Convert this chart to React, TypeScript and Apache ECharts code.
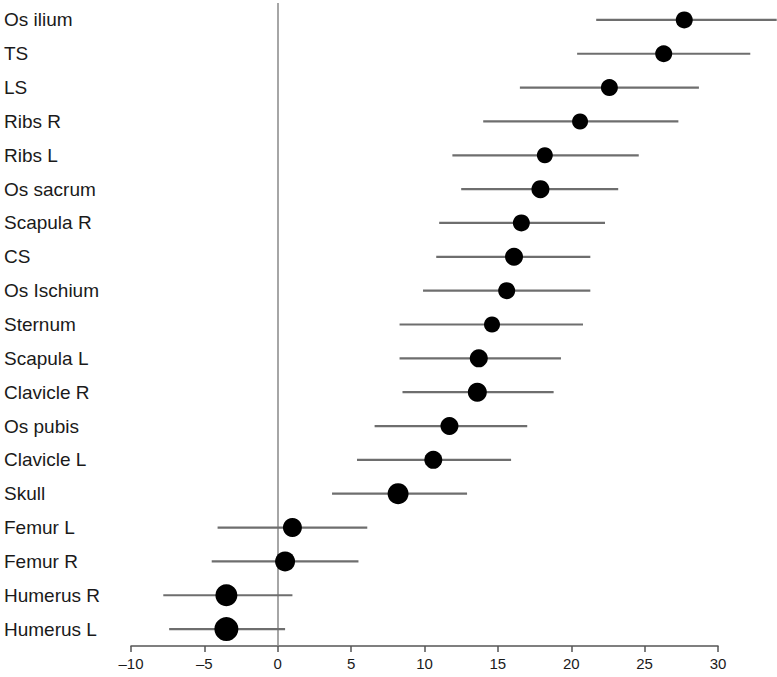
import React, { useEffect, useRef } from "react";
import * as echarts from "echarts";

const categories = [
  "Os ilium", "TS", "LS", "Ribs R", "Ribs L", "Os sacrum", "Scapula R", "CS",
  "Os Ischium", "Sternum", "Scapula L", "Clavicle R", "Os pubis", "Clavicle L",
  "Skull", "Femur L", "Femur R", "Humerus R", "Humerus L",
];
const estimates = [27.7, 26.3, 22.6, 20.6, 18.2, 17.9, 16.6, 16.1, 15.6, 14.6, 13.7, 13.6, 11.7, 10.6, 8.2, 1.0, 0.5, -3.5, -3.5];
const lower = [21.7, 20.4, 16.5, 14.0, 11.9, 12.5, 11.0, 10.8, 9.9, 8.3, 8.3, 8.5, 6.6, 5.4, 3.7, -4.1, -4.5, -7.8, -7.4];
const upper = [34.0, 32.2, 28.7, 27.3, 24.6, 23.2, 22.3, 21.3, 21.3, 20.8, 19.3, 18.8, 17.0, 15.9, 12.9, 6.1, 5.5, 1.0, 0.5];
const pointSizes = [17, 17, 17, 16, 16, 18, 17, 18, 17, 16, 18, 19, 18, 18, 21, 19, 20, 22, 24];
const xTicks = [-10, -5, 0, 5, 10, 15, 20, 25, 30];

export default function App() {
  const ref = useRef<HTMLDivElement>(null);
  useEffect(() => {
    if (!ref.current) return;
    const chart = echarts.init(ref.current, null, { renderer: "svg" });
    const data = categories.map((c, i) => [i, lower[i], upper[i], estimates[i], pointSizes[i]]);
    chart.setOption({
      animation: false,
      backgroundColor: "#ffffff",
      grid: { left: 131, right: 59, top: 3, bottom: 31, containLabel: false },
      xAxis: {
        type: "value",
        min: xTicks[0],
        max: xTicks[xTicks.length - 1],
        interval: 5,
        axisLine: { show: true, lineStyle: { color: "#555", width: 1.5 } },
        axisTick: { show: true, length: 6, lineStyle: { color: "#555", width: 1.5 } },
        axisLabel: {
          margin: 10,
          color: "#1a1a1a",
          fontSize: 15,
          fontFamily: "Liberation Sans, Arial, sans-serif",
          formatter: (v: number) => (v < 0 ? "\u2013" + Math.abs(v) : String(v)),
        },
        splitLine: { show: false },
      },
      yAxis: {
        type: "category",
        data: categories,
        inverse: true,
        axisLine: { show: false },
        axisTick: { show: false },
        splitLine: { show: false },
        axisLabel: {
          align: "left",
          margin: 127,
          color: "#1a1a1a",
          fontSize: 19,
          fontFamily: "Liberation Sans, Arial, sans-serif",
        },
      },
      series: [
        {
          type: "custom",
          clip: false,
          data,
          encode: { x: [1, 2, 3], y: 0 },
          renderItem: (params: any, api: any) => {
            const cat = api.value(0);
            const lo = api.coord([api.value(1), cat]);
            const hi = api.coord([api.value(2), cat]);
            const pt = api.coord([api.value(3), cat]);
            const r = api.value(4) / 2;
            return {
              type: "group",
              children: [
                {
                  type: "line",
                  shape: { x1: lo[0], y1: lo[1], x2: hi[0], y2: hi[1] },
                  style: { stroke: "#6e6e6e", lineWidth: 2.2 },
                },
                {
                  type: "circle",
                  shape: { cx: pt[0], cy: pt[1], r },
                  style: { fill: "#000" },
                },
              ],
            };
          },
          markLine: {
            silent: true,
            symbol: "none",
            label: { show: false },
            lineStyle: { color: "#888", width: 1.5, type: "solid" },
            data: [{ xAxis: 0 }],
            z: 1,
          },
          z: 2,
        },
      ],
    });
    return () => chart.dispose();
  }, []);
  return (
    <div
      ref={ref}
      style={{ position: "absolute", left: 0, top: 0, width: 777, height: 677, background: "#fff" }}
    />
  );
}
